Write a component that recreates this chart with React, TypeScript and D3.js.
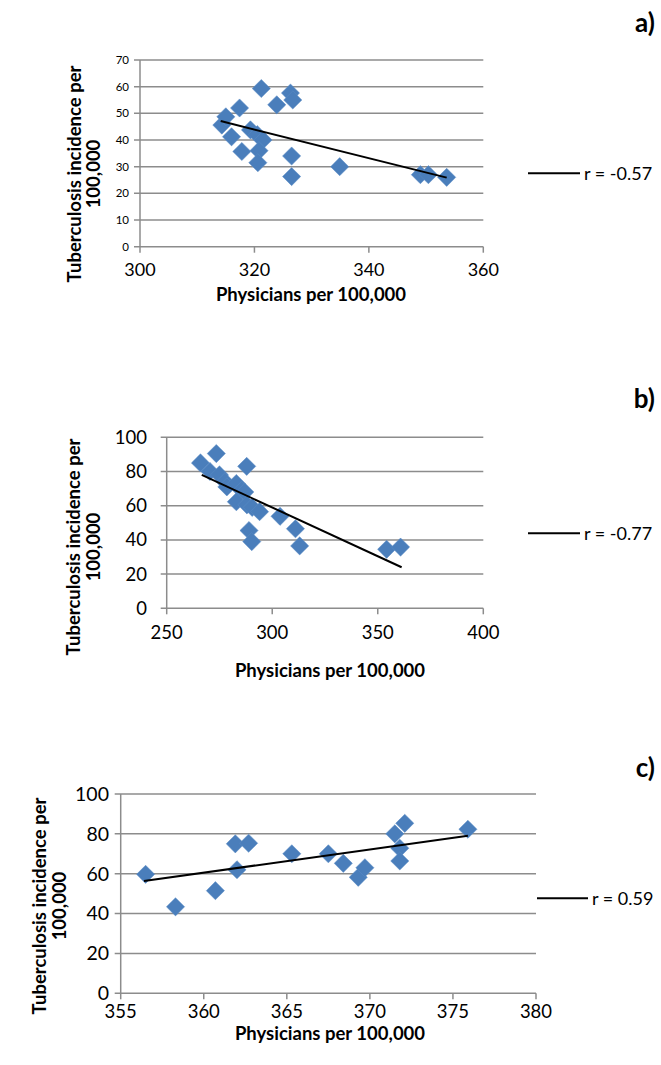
import React from "react";
import * as d3 from "d3";

// ---------- data ----------
const aX = [314.3, 315.0, 316.0, 317.4, 317.8, 319.3, 320.5, 321.5, 320.8, 320.6, 321.2, 323.9, 326.3, 326.7, 326.5, 326.5, 334.9, 349.0, 350.4, 353.6];
const aY = [45.6, 48.7, 41.2, 52.0, 35.7, 43.8, 42.0, 40.0, 36.0, 31.5, 59.3, 53.2, 57.6, 55.0, 34.0, 26.3, 30.0, 27.0, 27.0, 26.0];
const aTrendX = [314.1, 353.6];
const aTrendY = [47.1, 25.9];
const aXTicks = [300, 320, 340, 360];
const aYTicks = [0, 10, 20, 30, 40, 50, 60, 70];

const bX = [266, 273.5, 270.5, 275, 277.6, 278.5, 283, 285.5, 287, 287.9, 283, 288, 290.5, 294, 289, 290.3, 303.7, 311, 313, 354.2, 360.8];
const bY = [85, 90.5, 80, 78, 74, 71, 73, 69, 68, 83, 62.3, 60.5, 59, 56.5, 45.5, 39, 53.8, 46.5, 36.5, 34.5, 35.8];
const bTrendX = [266.6, 361.3];
const bTrendY = [78, 24];
const bXTicks = [250, 300, 350, 400];
const bYTicks = [0, 20, 40, 60, 80, 100];

const cX = [356.5, 358.3, 360.7, 361.9, 362.0, 362.7, 365.3, 367.5, 368.4, 369.3, 369.7, 371.5, 372.1, 371.8, 371.8, 375.9];
const cY = [59.7, 43.4, 51.5, 75.0, 62.0, 75.3, 70.0, 70.0, 65.2, 58.2, 63.0, 80.0, 85.3, 72.8, 66.4, 82.3];
const cTrendX = [356.4, 375.9];
const cTrendY = [56.3, 79.1];
const cXTicks = [355, 360, 365, 370, 375, 380];
const cYTicks = [0, 20, 40, 60, 80, 100];

const panelLabels = ["a)", "b)", "c)"];
const rLabels = ["r = -0.57", "r = -0.77", "r = 0.59"];
const xTitle = "Physicians per 100,000";
const yTitle1 = "Tuberculosis incidence per";
const yTitle2 = "100,000";

// ---------- layout ----------
const FONT = "Lato, 'Open Sans', sans-serif";
const GRID = "#8c8c8c";
const MARK = "#4A7EBB";

type Panel = {
  xs: number[]; ys: number[]; tx: number[]; ty: number[];
  xTicks: number[]; yTicks: number[];
  xr: [number, number]; yr: [number, number];
  yLabFont: number; yLabRight: number; xLabFont: number; xLabBase: number;
  xTitleX: number; xTitleBase: number;
  yTitleY: number; yTitleBase1: number; yTitleBase2: number;
  label: string; labelBase: number;
  r: string; legX1: number; legX2: number; legY: number;
};

const panels: Panel[] = [
  {
    xs: aX, ys: aY, tx: aTrendX, ty: aTrendY, xTicks: aXTicks, yTicks: aYTicks,
    xr: [140, 483.3], yr: [246.7, 60],
    yLabFont: 11.5, yLabRight: 129, xLabFont: 18, xLabBase: 276,
    xTitleX: 311, xTitleBase: 301,
    yTitleY: 174, yTitleBase1: 81, yTitleBase2: 100,
    label: panelLabels[0], labelBase: 32,
    r: rLabels[0], legX1: 528, legX2: 580, legY: 173.3,
  },
  {
    xs: bX, ys: bY, tx: bTrendX, ty: bTrendY, xTicks: bXTicks, yTicks: bYTicks,
    xr: [166.7, 483.3], yr: [608.3, 437.3],
    yLabFont: 18.5, yLabRight: 147, xLabFont: 18.5, xLabBase: 639,
    xTitleX: 330, xTitleBase: 677,
    yTitleY: 547, yTitleBase1: 80, yTitleBase2: 100,
    label: panelLabels[1], labelBase: 408,
    r: rLabels[1], legX1: 528, legX2: 580, legY: 533.3,
  },
  {
    xs: cX, ys: cY, tx: cTrendX, ty: cTrendY, xTicks: cXTicks, yTicks: cYTicks,
    xr: [120.7, 536], yr: [993.3, 794],
    yLabFont: 19.5, yLabRight: 109, xLabFont: 18.5, xLabBase: 1018,
    xTitleX: 330, xTitleBase: 1040,
    yTitleY: 906, yTitleBase1: 46, yTitleBase2: 66,
    label: panelLabels[2], labelBase: 777,
    r: rLabels[2], legX1: 537, legX2: 588, legY: 898.3,
  },
];

const diamond = d3.symbol().type(d3.symbolSquare).size(165)();

function PanelView({ p }: { p: Panel }) {
  const x = d3.scaleLinear().domain([p.xTicks[0], p.xTicks[p.xTicks.length - 1]]).range(p.xr);
  const y = d3.scaleLinear().domain([p.yTicks[0], p.yTicks[p.yTicks.length - 1]]).range(p.yr);
  const line = d3.line<number>().x((d) => x(p.tx[d])).y((d) => y(p.ty[d]));
  const x0 = p.xr[0], x1 = p.xr[1], yb = p.yr[0];
  return (
    <g fontFamily={FONT}>
      {p.yTicks.map((t) => (
        <g key={"gy" + t}>
          <line x1={x0 - 6} x2={x1} y1={y(t)} y2={y(t)} stroke={GRID} strokeWidth={1.5} />
          <text x={p.yLabRight} y={y(t)} dy="0.35em" textAnchor="end" fontSize={p.yLabFont} fill="#000">{t}</text>
        </g>
      ))}
      <line x1={x0} x2={x0} y1={p.yr[1]} y2={yb} stroke={GRID} strokeWidth={1.5} />
      {p.xTicks.map((t) => (
        <g key={"gx" + t}>
          <line x1={x(t)} x2={x(t)} y1={yb} y2={yb + 6} stroke={GRID} strokeWidth={1.5} />
          <text x={x(t)} y={p.xLabBase} textAnchor="middle" fontSize={p.xLabFont} fill="#000">{t}</text>
        </g>
      ))}
      {p.xs.map((v, i) => (
        <path key={"pt" + i} d={diamond} transform={`translate(${x(v)},${y(p.ys[i])}) rotate(45)`} fill={MARK} stroke="#5B8CC6" strokeWidth={0.5} />
      ))}
      <path d={line([0, 1]) || ""} stroke="#000" strokeWidth={2} fill="none" />
      <text x={p.xTitleX} y={p.xTitleBase} textAnchor="middle" fontSize={18.5} fontWeight="bold" fill="#000">{xTitle}</text>
      <text transform={`translate(${p.yTitleBase1},${p.yTitleY}) rotate(-90)`} textAnchor="middle" fontSize={18.5} fontWeight="bold" fill="#000">{yTitle1}</text>
      <text transform={`translate(${p.yTitleBase2},${p.yTitleY}) rotate(-90)`} textAnchor="middle" fontSize={18.5} fontWeight="bold" fill="#000">{yTitle2}</text>
      <text x={655} y={p.labelBase} textAnchor="end" fontSize={26} fontWeight="bold" fill="#000">{p.label}</text>
      <line x1={p.legX1} x2={p.legX2} y1={p.legY} y2={p.legY} stroke="#000" strokeWidth={2} />
      <text x={p.legX2 + 4} y={p.legY} dy="0.35em" fontSize={18} fill="#000">{p.r}</text>
    </g>
  );
}

export default function App() {
  return (
    <svg width={661} height={1065} style={{ position: "absolute", left: 0, top: 0, background: "#fff" }}>
      <rect width={661} height={1065} fill="#fff" />
      {panels.map((p, i) => (
        <PanelView key={i} p={p} />
      ))}
    </svg>
  );
}
